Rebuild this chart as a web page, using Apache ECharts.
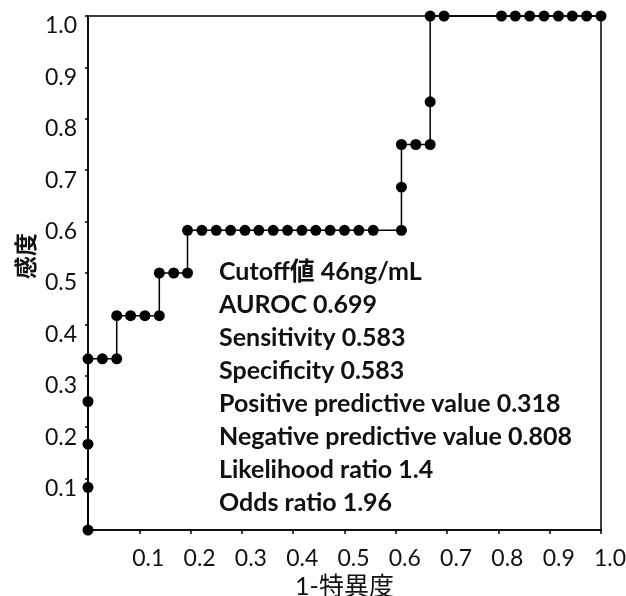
<!DOCTYPE html>
<html>
<head>
<meta charset="utf-8">
<script src="https://cdn.jsdelivr.net/npm/echarts@6/dist/echarts.min.js"></script>
<style>
  html, body { margin: 0; padding: 0; background: #fff; }
  #chart { width: 626px; height: 596px; }
</style>
</head>
<body>
<div id="chart"></div>
<script>
// ROC curve points (1-specificity, sensitivity)
const fpr = [0, 0, 0, 0, 0, 0.028, 0.056,
  0.056, 0.083, 0.111, 0.139,
  0.139, 0.167, 0.194,
  0.194, 0.222, 0.25, 0.278, 0.306, 0.333, 0.361, 0.389, 0.417, 0.444, 0.472, 0.5, 0.528, 0.556, 0.611,
  0.611, 0.611, 0.639, 0.667,
  0.667, 0.667, 0.694,
  0.806, 0.833, 0.861, 0.889, 0.917, 0.944, 0.972, 1.0];
const tpr = [0, 0.083, 0.167, 0.25, 0.333, 0.333, 0.333,
  0.417, 0.417, 0.417, 0.417,
  0.5, 0.5, 0.5,
  0.583, 0.583, 0.583, 0.583, 0.583, 0.583, 0.583, 0.583, 0.583, 0.583, 0.583, 0.583, 0.583, 0.583, 0.583,
  0.667, 0.75, 0.75, 0.75,
  0.833, 1.0, 1.0,
  1.0, 1.0, 1.0, 1.0, 1.0, 1.0, 1.0, 1.0];

const statLines = [
  'Cutoff値 46ng/mL',
  'AUROC 0.699',
  'Sensitivity 0.583',
  'Specificity 0.583',
  'Positive predictive value 0.318',
  'Negative predictive value 0.808',
  'Likelihood ratio 1.4',
  'Odds ratio 1.96'
];

const xTitle = '1-特異度';
const yTitle = '感度';

const chart = echarts.init(document.getElementById('chart'));

const tickFont = "Lato, 'Noto Sans CJK JP', sans-serif";

let points = fpr.map((x, i) => [x, tpr[i]]);

let option = {
  animation: false,
  grid: {
    left: 88, right: 25, top: 16, bottom: 66,
    outerBoundsMode: 'none',
    containLabel: false,
    show: true,
    borderColor: '#000',
    borderWidth: 1.5
  },
  xAxis: {
    type: 'value',
    min: 0, max: 1, interval: 0.1,
    name: xTitle,
    nameLocation: 'middle',
    nameGap: 36,
    nameTextStyle: { fontFamily: tickFont, fontSize: 25, color: '#111' },
    axisLine: { lineStyle: { color: '#000', width: 1.5 } },
    axisTick: { show: true, length: 4, lineStyle: { color: '#000', width: 1.5 } },
    axisLabel: {
      margin: 17,
      color: '#111',
      fontFamily: tickFont,
      fontSize: 23,
      padding: [0, 0, 0, 18],
      formatter: v => v === 0 ? '' : v.toFixed(1)
    },
    splitLine: { show: false }
  },
  yAxis: {
    type: 'value',
    min: 0, max: 1, interval: 0.1,
    axisLine: { lineStyle: { color: '#000', width: 1.5 } },
    axisTick: { show: true, length: 3, lineStyle: { color: '#000', width: 1.5 } },
    axisLabel: {
      margin: 11,
      color: '#111',
      fontFamily: tickFont,
      fontSize: 23,
      verticalAlign: 'top',
      lineHeight: 20,
      formatter: v => v === 0 ? '' : v.toFixed(1)
    },
    splitLine: { show: false }
  },
  graphic: [
    {
      type: 'text',
      x: 25, y: 256,
      rotation: Math.PI / 2,
      style: {
        text: yTitle,
        font: "bold 23px 'Noto Sans CJK JP'",
        fill: '#111',
        textAlign: 'center',
        textVerticalAlign: 'middle'
      }
    },
    ...statLines.map((t, i) => ({
      type: 'text',
      x: 219,
      y: 272 + i * 33,
      style: {
        text: t,
        font: "bold 25px Lato, 'Noto Sans CJK JP'",
        fill: '#111',
        textAlign: 'left',
        textVerticalAlign: 'middle'
      }
    }))
  ],
  series: [{
    type: 'line',
    data: points,
    symbol: 'circle',
    symbolSize: 11,
    clip: false,
    itemStyle: { color: '#000' },
    lineStyle: { color: '#000', width: 1.5 }
  }]
};

chart.setOption(option);
</script>
</body>
</html>
